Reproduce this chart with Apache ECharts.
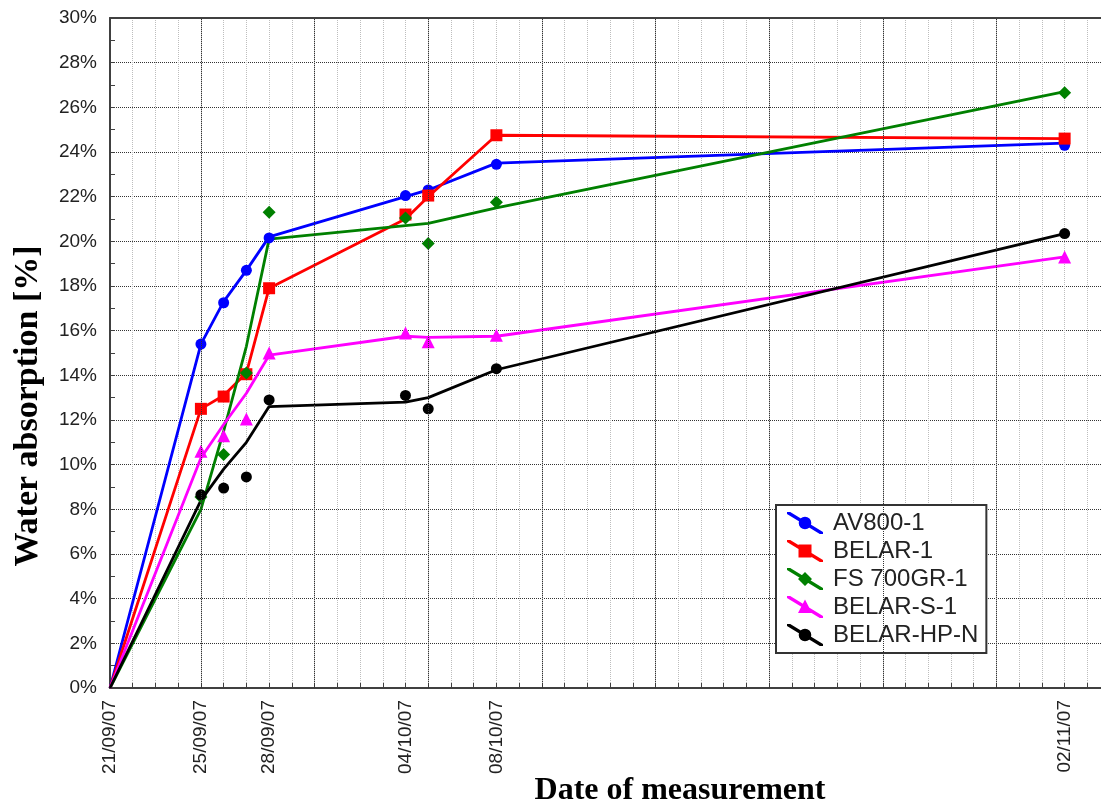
<!DOCTYPE html>
<html>
<head>
<meta charset="utf-8">
<title>Water absorption</title>
<script src="https://cdn.jsdelivr.net/npm/echarts@6/dist/echarts.min.js"></script>
<style>
  html, body { margin: 0; padding: 0; background: #ffffff; }
  #chart { width: 1101px; height: 807px; }
</style>
</head>
<body>
<div id="chart"></div>
<script>
// Measurement dates (dd/mm/yy)
const measureDates = ['21/09/07', '25/09/07', '26/09/07', '27/09/07', '28/09/07', '04/10/07', '05/10/07', '08/10/07', '02/11/07'];
// Dates written under the horizontal axis
const labelDates = ['21/09/07', '25/09/07', '28/09/07', '04/10/07', '08/10/07', '02/11/07'];
// Dates carrying the heavier vertical grid lines
const majorGridDates = ['25/09/07', '30/09/07', '05/10/07', '10/10/07', '15/10/07', '20/10/07', '25/10/07', '30/10/07'];
const axisStart = '21/09/07';
const visibleDays = 43.6;   // time span shown across the plot

const seriesNames = ['AV800-1', 'BELAR-1', 'FS 700GR-1', 'BELAR-S-1', 'BELAR-HP-N'];

// Trend curves, water absorption in %, one value per measurement date
const av800Curve   = [0, 15.4, 17.3, 18.7, 20.2, 22.0, 22.3, 23.5, 24.4];
const belarCurve   = [0, 12.5, 13.1, 14.1, 17.9, 21.0, 22.0, 24.75, 24.6];
const fs700Curve   = [0, 8.0, 11.5, 15.3, 20.1, 20.7, 20.8, 21.5, 26.7];
const belarSCurve  = [0, 10.3, 11.8, 13.2, 14.9, 15.75, 15.7, 15.75, 19.3];
const belarHPCurve = [0, 8.4, 9.8, 11.0, 12.6, 12.8, 13.0, 14.25, 20.35];

// Measured water absorption in %, one value per measurement date
const av800Measured   = [0, 15.4, 17.25, 18.7, 20.15, 22.05, 22.3, 23.45, 24.3];
const belarMeasured   = [0, 12.5, 13.05, 14.05, 17.9, 21.2, 22.05, 24.75, 24.6];
const fs700Measured   = [0, 8.55, 10.45, 14.1, 21.3, 21.05, 19.9, 21.75, 26.65];
const belarSMeasured  = [0, 10.6, 11.3, 12.05, 15.0, 15.9, 15.5, 15.8, 19.3];
const belarHPMeasured = [0, 8.65, 8.95, 9.45, 12.9, 13.1, 12.5, 14.3, 20.35];

const curves = [av800Curve, belarCurve, fs700Curve, belarSCurve, belarHPCurve];
const measured = [av800Measured, belarMeasured, fs700Measured, belarSMeasured, belarHPMeasured];

const colors = ['#0000ff', '#ff0000', '#008000', '#ff00ff', '#000000'];
const symbols = ['circle', 'rect', 'diamond', 'triangle', 'circle'];
const symbolSizes = [11, 12, 13, 13, 11];

const DAY = 86400000;
function toTime(s) {
  const p = s.split('/').map(Number);
  return Date.UTC(2000 + p[2], p[1] - 1, p[0]);
}
function two(n) { return (n < 10 ? '0' : '') + n; }
function fmtDate(t) {
  const d = new Date(t);
  return two(d.getUTCDate()) + '/' + two(d.getUTCMonth() + 1) + '/' + two(d.getUTCFullYear() % 100);
}
const labelSet = new Set(labelDates.map(toTime));
const startTime = toTime(axisStart);

// Legend glyphs: a slanted stroke with the marker shape in its middle (36 x 22 box)
function poly(pts) {
  return 'M' + pts.map(p => p[0].toFixed(2) + ',' + p[1].toFixed(2)).join('L') + 'Z';
}
const stroke = poly([[0, 0], [3.2, 0], [36, 20], [36, 22], [32.8, 22], [0, 2]]);
function ring(r, n) {
  const pts = [];
  for (let k = 0; k < n; k++) {
    const a = (k / n) * Math.PI * 2;
    pts.push([18 + r * Math.cos(a), 11 + r * Math.sin(a)]);
  }
  return poly(pts);
}
const markerPaths = {
  circle: ring(6.3, 16),
  rect: poly([[11.5, 4.5], [24.5, 4.5], [24.5, 17.5], [11.5, 17.5]]),
  diamond: poly([[18, 4], [25, 11], [18, 18], [11, 11]]),
  triangle: poly([[18, 3.5], [25, 17], [11, 17]])
};
function legendIcon(sym) { return 'path://' + stroke + markerPaths[sym]; }

const fontSans = '"Liberation Sans", Arial, sans-serif';
const fontSerif = '"Liberation Serif", "Times New Roman", serif';

const series = [];
// helper carrying the heavier vertical grid lines
series.push({
  type: 'line',
  data: [],
  z: 1,
  silent: true,
  markLine: {
    silent: true,
    symbol: ['none', 'none'],
    label: { show: false },
    lineStyle: { color: '#333333', width: 1, type: [1, 1] },
    animation: false,
    data: majorGridDates.map(d => ({ xAxis: toTime(d) }))
  }
});
seriesNames.forEach((name, i) => {
  series.push({
    name: name,
    type: 'line',
    z: 3,
    color: colors[i],
    symbol: 'none',
    showSymbol: false,
    lineStyle: { color: colors[i], width: 2.8 },
    data: measureDates.map((d, j) => [toTime(d), curves[i][j]])
  });
});
seriesNames.forEach((name, i) => {
  series.push({
    name: name,
    type: 'scatter',
    z: 4,
    color: colors[i],
    symbol: symbols[i],
    symbolSize: symbolSizes[i],
    itemStyle: { color: colors[i], opacity: 1 },
    // the common starting point sits on the axis corner and is left unmarked
    data: measureDates.map((d, j) => [toTime(d), measured[i][j]]).filter(p => p[0] > startTime)
  });
});

const chart = echarts.init(document.getElementById('chart'), null, { renderer: 'canvas' });
chart.setOption({
  animation: false,
  backgroundColor: '#ffffff',
  grid: {
    left: 110,
    top: 18,
    right: 0,
    height: 670,
    show: false
  },
  xAxis: [
    {
      type: 'value',
      min: startTime,
      max: startTime + visibleDays * DAY,
      interval: DAY,
      axisLine: { show: true, lineStyle: { color: '#404040', width: 2 } },
      axisTick: { show: true, inside: true, length: 5, lineStyle: { color: '#404040', width: 1 } },
      axisLabel: {
        rotate: 90,
        margin: 12,
        fontSize: 19,
        fontFamily: fontSans,
        color: '#222222',
        showMinLabel: true,
        showMaxLabel: false,
        formatter: v => (labelSet.has(v) ? fmtDate(v) : '')
      },
      splitLine: { show: true, lineStyle: { color: '#bdbdbd', width: 1, type: [1, 1] } }
    },
    {
      // frame line along the top of the plot
      type: 'value',
      position: 'top',
      min: startTime,
      max: startTime + visibleDays * DAY,
      interval: DAY,
      axisLine: { show: true, lineStyle: { color: '#404040', width: 2 } },
      axisTick: { show: false },
      axisLabel: { show: false },
      splitLine: { show: false }
    }
  ],
  yAxis: {
    type: 'value',
    min: 0,
    max: 30,
    interval: 2,
    axisLine: { show: true, lineStyle: { color: '#404040', width: 2 } },
    axisTick: { show: true, inside: true, length: 5, lineStyle: { color: '#404040', width: 1 } },
    minorTick: { show: true, splitNumber: 2, length: 5, lineStyle: { color: '#404040', width: 1 } },
    axisLabel: {
      margin: 13,
      fontSize: 19,
      fontFamily: fontSans,
      color: '#222222',
      formatter: '{value}%'
    },
    splitLine: { show: true, lineStyle: { color: '#333333', width: 1, type: [1, 1] } }
  },
  legend: {
    orient: 'vertical',
    left: 776,
    top: 505,
    itemWidth: 36,
    itemHeight: 22,
    itemGap: 4,
    padding: [6, 8, 6, 11],
    borderColor: '#333333',
    borderWidth: 2,
    backgroundColor: '#ffffff',
    selectedMode: false,
    textStyle: { fontSize: 24, fontFamily: fontSans, color: '#222222', lineHeight: 22, padding: [0, 0, 0, 5] },
    data: seriesNames.map((n, i) => ({ name: n, icon: legendIcon(symbols[i]) }))
  },
  graphic: [
    {
      type: 'text',
      x: 28,
      y: 406,
      rotation: Math.PI / 2,
      style: {
        text: 'Water absorption [%]',
        font: 'bold 34px ' + fontSerif,
        fill: '#000000',
        align: 'center',
        verticalAlign: 'middle'
      }
    },
    {
      type: 'text',
      x: 680,
      y: 791,
      style: {
        text: 'Date of measurement',
        font: 'bold 32px ' + fontSerif,
        fill: '#000000',
        align: 'center',
        verticalAlign: 'middle'
      }
    }
  ],
  series: series
});
</script>
</body>
</html>
